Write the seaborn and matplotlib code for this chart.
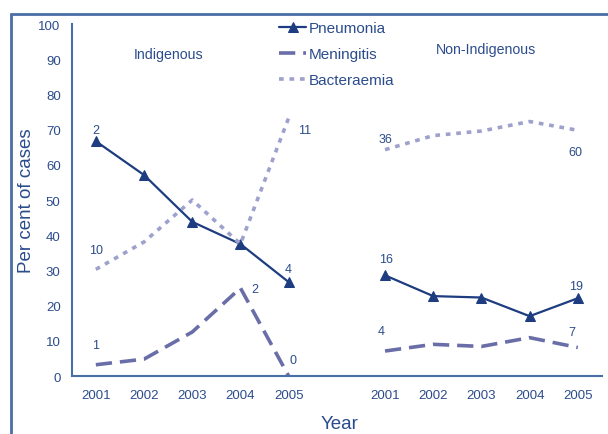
import numpy as np
import pandas as pd
import matplotlib
matplotlib.use('Agg')
import matplotlib.pyplot as plt
import seaborn as sns
from matplotlib.patches import Rectangle

# データ
years = ['2001', '2002', '2003', '2004', '2005']
groups = ['Indigenous', 'Non-Indigenous']
diseases = ['Pneumonia', 'Meningitis', 'Bacteraemia']

pneu_ind = [66.7, 57.1, 43.8, 37.5, 26.7]
meni_ind = [3.2, 4.8, 12.5, 25.0, 0.0]
bact_ind = [30.3, 38.1, 50.0, 37.5, 73.3]
pneu_non = [28.6, 22.7, 22.3, 17.0, 22.1]
meni_non = [7.1, 9.0, 8.4, 10.9, 8.1]
bact_non = [64.3, 68.3, 69.6, 72.3, 69.8]

# 症例数ラベル（最初と最後の年のみ）
pneu_ind_n = ['2', '4']
meni_ind_n = ['1', '2', '0']
bact_ind_n = ['10', '11']
pneu_non_n = ['16', '19']
meni_non_n = ['4', '7']
bact_non_n = ['36', '60']

rows = []
series = {('Indigenous', 'Pneumonia'): pneu_ind, ('Indigenous', 'Meningitis'): meni_ind,
          ('Indigenous', 'Bacteraemia'): bact_ind, ('Non-Indigenous', 'Pneumonia'): pneu_non,
          ('Non-Indigenous', 'Meningitis'): meni_non, ('Non-Indigenous', 'Bacteraemia'): bact_non}
for (g, d), vals in series.items():
    base = 0 if g == 'Indigenous' else 6
    for i, v in enumerate(vals):
        rows.append({'group': g, 'disease': d, 'pos': base + i, 'value': v})
df = pd.DataFrame(rows)

sns.set_style('white')
plt.rcParams['font.family'] = ['Liberation Sans', 'DejaVu Sans']
txt = '#2b4c8c'
spine = '#4a6ea6'
colors = {'Pneumonia': '#1d3d80', 'Meningitis': '#6a6ea8', 'Bacteraemia': '#9ea1cc'}
dashes = {'Pneumonia': (None, None), 'Meningitis': (4.5, 2.2), 'Bacteraemia': (1.3, 1.6)}
widths = {'Pneumonia': 1.6, 'Meningitis': 2.6, 'Bacteraemia': 2.6}

fig = plt.figure(figsize=(6.08, 4.35), dpi=100)
ax = fig.add_axes([0.118, 0.1333, 0.872, 0.8092])

fig.patches.append(Rectangle((0.018, -0.1), 1.5, 1.0655, transform=fig.transFigure,
                             fill=False, edgecolor=spine, linewidth=2))

handles = {}
for g in groups:
    for d in diseases:
        sub = df[(df.group == g) & (df.disease == d)]
        sns.lineplot(data=sub, x='pos', y='value', ax=ax, color=colors[d],
                     linewidth=widths[d], marker='^' if d == 'Pneumonia' else None,
                     markersize=7, markeredgecolor=colors[d])
        line = ax.lines[-1]
        if d != 'Pneumonia':
            line.set_dashes(dashes[d])
        handles[d] = line

# 症例数の注釈
def label(vals, idx, texts, offs, base):
    for i, t, o in zip(idx, texts, offs):
        ax.annotate(t, (base + i, vals[i]), xytext=o, textcoords='offset pixels',
                    ha='center', va='center', fontsize=9, color=txt)

label(pneu_ind, [0, 4], pneu_ind_n, [(0, 11), (0, 13)], 0)
label(meni_ind, [0, 3, 4], meni_ind_n, [(0, 20), (14, -1), (4, 16)], 0)
label(bact_ind, [0, 4], bact_ind_n, [(0, 19), (16, -12)], 0)
label(pneu_non, [0, 4], pneu_non_n, [(1, 16), (-2, 12)], 6)
label(meni_non, [0, 4], meni_non_n, [(-4, 20), (-6, 16)], 6)
label(bact_non, [0, 4], bact_non_n, [(0, 11), (-2, -22)], 6)

ax.text(1.5, 91.5, 'Indigenous', ha='center', va='center', fontsize=10.2, color=txt)
ax.text(8.1, 93, 'Non-Indigenous', ha='center', va='center', fontsize=10.2, color=txt)

ax.set_xlim(-0.5, 10.5)
ax.set_ylim(0, 100)
ax.set_yticks(np.arange(0, 101, 10))
ax.set_xticks(np.arange(-0.5, 10.6, 1))
ax.set_xticklabels([])
ax.set_xticks(list(range(0, 5)) + list(range(6, 11)), minor=True)
ax.set_xticklabels(years + years, minor=True)
ax.tick_params(axis='x', which='minor', length=0, pad=9, labelsize=9.5, labelcolor=txt)
ax.tick_params(axis='x', which='major', length=5, width=1.2, color=spine, direction='out')
ax.tick_params(axis='y', length=5, width=1.2, color=spine, direction='out', labelsize=9.5,
               labelcolor=txt, pad=3)
for s in ['top', 'right']:
    ax.spines[s].set_visible(False)
for s in ['left', 'bottom']:
    ax.spines[s].set_color(spine)
    ax.spines[s].set_linewidth(1.5)

ax.set_xlabel('Year', fontsize=13.5, color=txt)
ax.set_ylabel('Per cent of cases', fontsize=13.5, color=txt)
ax.xaxis.set_label_coords(0.506, -0.112)
ax.yaxis.set_label_coords(-0.07, 0.5)

leg = ax.legend([handles[d] for d in diseases], diseases, loc='upper left',
                bbox_to_anchor=(0.4365, 0.98), bbox_transform=fig.transFigure,
                frameon=False, fontsize=11, labelspacing=0.78, handlelength=1.75,
                handletextpad=0.2, labelcolor=txt)

fig.savefig('out.png', dpi=100)
